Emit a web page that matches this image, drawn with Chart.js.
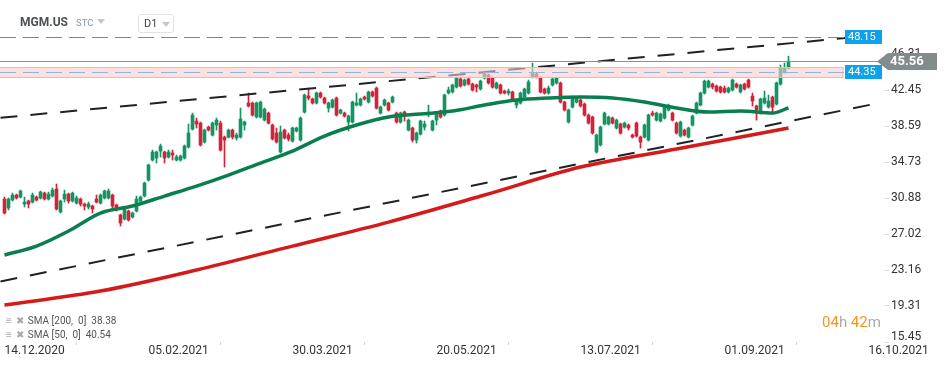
<!DOCTYPE html>
<html>
<head>
<meta charset="utf-8">
<script src="https://cdn.jsdelivr.net/npm/chart.js@4.4.1/dist/chart.umd.min.js"></script>
<style>
  body { margin: 0; background: #fff; font-family: Roboto, "Noto Sans", sans-serif; }
  #wrap { position: relative; width: 950px; height: 367px; overflow: hidden; }
  canvas { position: absolute; left: 0; top: 0; }
  .abs { position: absolute; white-space: nowrap; }
  .sym { left: 20px; top: 15px; font-size: 12px; font-weight: bold; color: #4a5056; }
  .stc { left: 76px; top: 17px; font-size: 9.5px; color: #8c98a4; }
  .tri { width: 0; height: 0; border-left: 4px solid transparent; border-right: 4px solid transparent; border-top: 5px solid #c6c6c6; }
  .tf { left: 138px; top: 14px; width: 34px; height: 17px; border: 1px solid #e2e2e2; border-radius: 3px; }
  .tf span { position: absolute; left: 5px; top: 2px; font-size: 11px; color: #444; }
  .leg { left: 6px; font-size: 10px; color: #555; }
  .leg i { font-style: normal; color: #aaa; font-size: 10px; margin-right: 4px; }
  .timer { left: 822px; top: 313px; font-size: 15px; color: #aaa; }
  .timer b { font-weight: normal; color: #f7931e; }
</style>
</head>
<body>
<div id="wrap">
  <canvas id="chart" width="950" height="367"></canvas>
  <div class="abs sym">MGM.US</div>
  <div class="abs stc">STC</div>
  <div class="abs tri" style="left:97px;top:19px"></div>
  <div class="abs tf"><span>D1</span><div class="abs tri" style="left:23px;top:7px"></div></div>
  <div class="abs leg" style="top:315px"><i>&#8801;</i><i>&#10006;</i>SMA [200,&nbsp; 0]&nbsp; 38.38</div>
  <div class="abs leg" style="top:329px"><i>&#8801;</i><i>&#10006;</i>SMA [50,&nbsp; 0]&nbsp; 40.54</div>
  <div class="abs timer"><b>04</b>h <b>42</b>m</div>
</div>
<script>
// x axis labels (bar index of each date)
const dates = ['14.12.2020', '05.02.2021', '30.03.2021', '20.05.2021', '13.07.2021', '01.09.2021', '16.10.2021'];
const dateIdx = [0, 36, 72, 108, 144, 180, 216];
const yTicks = ['15.45', '19.31', '23.16', '27.02', '30.88', '34.73', '38.59', '42.45', '46.31'];

// daily candles MGM.US
const open = [
  30.77, 29.81, 30.66, 31.20, 30.98, 30.23, 30.56, 30.45, 30.98, 30.88,
  31.41, 30.77, 31.09, 31.84, 29.38, 30.77, 31.30, 30.56, 30.34, 30.77,
  30.23, 29.91, 30.02, 30.77, 30.34, 30.88, 30.88, 31.20, 30.13, 29.06,
  28.63, 29.48, 28.84, 29.48, 30.56, 31.09, 32.80, 34.95, 35.16, 35.91,
  35.81, 35.27, 35.70, 34.95, 34.95, 35.16, 36.34, 38.27, 39.13, 38.91,
  36.88, 38.48, 37.63, 38.70, 38.91, 37.41, 37.41, 38.16, 37.31, 37.41,
  38.70, 41.06, 41.06, 39.56, 39.56, 39.23, 39.98, 38.70, 37.84, 35.81,
  38.16, 37.63, 36.98, 38.06, 37.09, 40.09, 41.81, 41.49, 41.06, 42.13,
  41.59, 40.52, 40.63, 41.59, 39.98, 39.98, 39.02, 39.02, 40.84, 40.84,
  41.70, 41.16, 42.24, 42.66, 39.98, 40.84, 41.06, 41.16, 39.98, 39.02,
  40.09, 38.16, 38.38, 37.09, 37.73, 38.48, 39.98, 38.16, 39.23, 40.20,
  39.77, 42.13, 42.24, 42.77, 43.63, 42.99, 43.63, 43.09, 42.99, 42.56,
  43.74, 44.06, 43.74, 42.66, 42.99, 42.34, 42.13, 42.24, 40.84, 41.06,
  41.70, 42.13, 43.84, 44.16, 43.74, 42.56, 42.13, 42.99, 43.20, 43.20,
  41.16, 39.02, 40.63, 41.16, 41.38, 40.95, 39.77, 39.56, 35.81, 36.56,
  38.81, 38.81, 39.45, 38.38, 38.81, 38.48, 38.70, 37.63, 38.91, 37.41,
  37.41, 37.09, 39.98, 39.23, 39.13, 39.45, 40.31, 39.98, 38.91, 37.52,
  38.16, 37.41, 38.70, 39.98, 40.84, 42.13, 42.77, 43.09, 42.88, 42.77,
  42.66, 42.24, 42.45, 43.09, 42.24, 43.09, 43.52, 41.81, 40.74, 39.98,
  41.06, 40.63, 41.70, 40.95, 43.09, 44.38, 44.81
];
const high = [
  30.98, 30.88, 31.41, 31.30, 31.73, 30.98, 30.66, 31.41, 31.09, 31.63,
  31.52, 31.52, 31.95, 32.38, 30.66, 31.73, 31.41, 31.52, 31.09, 30.88,
  30.34, 30.45, 30.13, 31.20, 31.30, 31.73, 31.84, 31.30, 30.23, 29.16,
  29.81, 29.59, 29.38, 31.09, 31.09, 32.59, 34.52, 36.02, 35.91, 36.66,
  35.91, 36.02, 36.02, 35.48, 35.48, 36.56, 38.81, 39.98, 39.45, 39.02,
  38.27, 38.59, 39.02, 39.45, 39.13, 37.52, 38.27, 38.27, 37.84, 40.52,
  39.13, 42.13, 41.16, 41.16, 41.27, 40.52, 40.09, 38.81, 38.38, 38.59,
  38.27, 37.84, 38.48, 38.48, 39.56, 42.02, 42.66, 41.59, 42.24, 42.24,
  41.70, 41.16, 41.49, 41.70, 40.41, 40.09, 39.77, 41.27, 42.13, 41.59,
  41.81, 42.34, 42.34, 42.77, 40.74, 41.49, 41.16, 41.81, 40.09, 40.09,
  40.20, 39.34, 38.48, 37.95, 39.23, 39.13, 40.84, 39.23, 40.09, 40.31,
  42.02, 42.77, 43.09, 43.84, 43.74, 43.63, 43.74, 43.20, 43.09, 43.52,
  44.38, 44.16, 43.84, 43.31, 43.09, 42.45, 42.56, 42.34, 41.49, 42.24,
  42.66, 43.52, 45.34, 44.27, 43.84, 42.66, 42.88, 43.74, 43.84, 43.31,
  41.27, 40.41, 41.81, 41.70, 41.49, 41.06, 39.88, 39.66, 37.73, 38.59,
  40.09, 39.66, 39.56, 39.34, 38.91, 39.02, 38.81, 37.73, 39.02, 37.52,
  38.81, 39.88, 40.20, 40.09, 39.98, 40.74, 40.95, 40.09, 39.02, 39.13,
  38.27, 38.48, 39.77, 41.16, 42.24, 43.52, 43.52, 43.20, 42.99, 42.88,
  42.88, 42.77, 43.63, 43.20, 43.09, 43.20, 43.63, 42.13, 40.84, 41.59,
  42.34, 41.91, 41.81, 43.31, 45.13, 45.34, 46.09
];
const low = [
  29.16, 29.59, 30.56, 30.77, 30.88, 29.91, 29.81, 30.34, 30.56, 30.77,
  30.66, 30.66, 30.98, 29.59, 29.27, 30.45, 30.34, 30.45, 30.23, 30.02,
  29.59, 29.70, 29.27, 30.34, 30.23, 30.77, 30.77, 29.81, 29.48, 27.88,
  28.52, 28.41, 28.73, 29.38, 30.45, 30.98, 32.70, 34.84, 34.63, 35.27,
  34.63, 35.16, 34.95, 34.84, 34.84, 35.06, 36.23, 38.16, 38.38, 36.45,
  36.77, 38.06, 37.52, 38.16, 35.91, 34.20, 37.31, 37.20, 37.09, 37.31,
  38.16, 40.63, 39.66, 39.45, 39.45, 39.13, 38.81, 37.09, 36.77, 35.70,
  37.20, 36.98, 36.88, 37.95, 36.98, 39.98, 41.38, 40.95, 40.95, 41.59,
  40.95, 40.09, 40.52, 39.66, 39.88, 39.56, 38.06, 38.91, 40.74, 40.74,
  41.38, 41.06, 41.70, 40.41, 39.88, 40.74, 40.20, 41.06, 38.91, 38.91,
  39.13, 38.06, 36.88, 36.77, 37.63, 38.16, 39.56, 38.06, 38.70, 39.45,
  39.66, 42.02, 42.13, 42.66, 42.77, 42.88, 42.99, 42.34, 42.24, 42.45,
  43.63, 43.09, 42.66, 42.56, 42.02, 42.02, 41.91, 41.38, 40.52, 40.95,
  41.59, 42.02, 43.74, 43.74, 42.13, 42.02, 42.02, 42.88, 43.09, 41.06,
  40.20, 38.91, 40.52, 41.06, 40.63, 39.66, 38.81, 37.73, 35.70, 36.45,
  38.70, 38.70, 38.81, 38.27, 37.73, 38.38, 38.16, 37.31, 37.41, 36.23,
  37.31, 36.98, 39.66, 39.13, 39.02, 39.34, 40.20, 39.13, 37.73, 37.41,
  37.52, 37.31, 38.59, 39.88, 40.74, 42.02, 42.66, 42.56, 42.24, 42.13,
  42.13, 42.13, 42.34, 42.66, 42.13, 42.45, 42.66, 40.74, 39.23, 39.88,
  40.95, 40.52, 39.88, 40.84, 42.99, 44.27, 44.70
];
const close = [
  29.27, 30.77, 31.20, 30.88, 31.63, 30.45, 30.23, 31.20, 30.66, 31.52,
  30.77, 31.30, 31.73, 29.70, 30.56, 31.30, 30.56, 31.41, 30.88, 30.23,
  30.02, 30.23, 29.70, 30.45, 31.20, 31.63, 31.63, 30.02, 29.70, 28.20,
  29.70, 28.52, 29.27, 30.77, 30.98, 32.48, 34.41, 35.81, 35.81, 36.45,
  35.16, 35.81, 35.48, 35.27, 35.38, 36.45, 37.84, 39.77, 38.81, 36.56,
  38.16, 38.16, 38.91, 39.23, 36.02, 37.09, 38.16, 37.41, 37.63, 39.34,
  39.02, 40.74, 39.77, 41.06, 41.16, 40.41, 38.91, 37.20, 36.88, 37.95,
  37.31, 37.20, 38.38, 38.38, 39.45, 41.91, 41.59, 41.06, 42.13, 41.70,
  41.06, 41.06, 41.38, 39.77, 40.31, 39.66, 39.66, 41.16, 41.06, 41.49,
  41.49, 42.24, 41.81, 40.52, 40.63, 41.38, 40.31, 41.70, 39.02, 39.98,
  39.77, 39.23, 37.09, 37.84, 39.13, 38.81, 40.09, 39.13, 39.98, 39.56,
  41.91, 42.45, 42.99, 43.74, 42.88, 43.52, 43.09, 42.45, 42.77, 43.41,
  44.27, 43.20, 42.77, 43.20, 42.13, 42.13, 42.34, 41.49, 41.38, 42.13,
  42.56, 43.31, 44.27, 43.84, 42.24, 42.13, 42.66, 43.63, 43.74, 41.16,
  40.31, 40.31, 41.70, 41.59, 40.74, 39.77, 38.91, 37.84, 37.63, 38.48,
  39.98, 39.56, 38.91, 39.23, 37.84, 38.91, 38.38, 37.41, 37.52, 36.88,
  38.70, 39.77, 39.77, 39.98, 39.88, 40.63, 40.63, 39.23, 37.84, 39.02,
  37.63, 38.38, 39.66, 41.06, 42.13, 43.41, 43.41, 42.77, 42.34, 42.24,
  42.24, 42.66, 43.52, 42.77, 42.99, 42.56, 42.77, 41.27, 40.31, 41.49,
  41.59, 41.27, 40.63, 43.20, 44.81, 44.81, 45.56
];

// moving averages (bar index / value)
const smaIdx = [0, 8, 16, 24, 32, 40, 48, 56, 64, 72, 80, 88, 96, 104, 112, 120, 128, 136, 144, 152, 160, 168, 176, 184, 192, 196];
const sma50 = [24.77, 25.73, 27.34, 29.27, 30.02, 31.09, 32.16, 33.34, 34.63, 35.91, 37.52, 38.70, 39.56, 39.88, 40.20, 40.84, 41.38, 41.59, 41.70, 41.59, 41.16, 40.52, 40.09, 40.20, 39.98, 40.54];
const sma200Idx = [0, 24, 48, 72, 96, 120, 144, 168, 196];
const sma200 = [19.41, 20.91, 23.16, 25.73, 28.30, 31.20, 34.20, 36.13, 38.38];

// trend channel (start / end bar)
const trendIdx = [-1, 217];
const upperTrend = [39.48, 48.30];
const lowerTrend = [21.94, 40.92];

// horizontal levels
const resistance = 48.15;
const lastPrice = 45.56;
const support = 44.35;
const supportZone = [43.84, 44.92];

const UP = '#139463', DOWN = '#d3223a';
const idx = close.map((_, i) => i);
const col = idx.map(i => close[i] >= open[i] ? UP : DOWN);

const levels = {
  id: 'levels',
  afterDatasetsDraw(chart) {
    const { ctx } = chart;
    const y = chart.scales.y;
    const zt = y.getPixelForValue(supportZone[1]);
    const zb = y.getPixelForValue(supportZone[0]);
    ctx.save();
    ctx.fillStyle = 'rgba(252,203,203,0.6)';
    ctx.fillRect(0, zt, 843, zb - zt);
    ctx.strokeStyle = '#f3b3b3';
    ctx.lineWidth = 1;
    ctx.strokeRect(-1, Math.round(zt) + 0.5, 844, Math.round(zb - zt));

    let p = Math.round(y.getPixelForValue(support)) + 0.5;
    ctx.strokeStyle = '#93b4dc';
    ctx.setLineDash([16, 7]);
    ctx.beginPath(); ctx.moveTo(0, p); ctx.lineTo(845, p); ctx.stroke();

    p = Math.round(y.getPixelForValue(resistance)) + 0.5;
    ctx.strokeStyle = '#27a3e3';
    ctx.beginPath(); ctx.moveTo(0, p); ctx.lineTo(845, p); ctx.stroke();

    ctx.setLineDash([]);
    p = Math.round(y.getPixelForValue(lastPrice)) + 0.5;
    ctx.strokeStyle = '#8a9292';
    ctx.beginPath(); ctx.moveTo(0, p); ctx.lineTo(878, p); ctx.stroke();
    ctx.restore();
  },
  afterDraw(chart) {
    const { ctx } = chart;
    const y = chart.scales.y;
    ctx.save();
    ctx.textBaseline = 'middle';
    ctx.textAlign = 'left';
    // bottom tick label sits a little higher, above the date
    ctx.fillStyle = '#333';
    ctx.font = '12px Roboto';
    ctx.fillText('15.45', 891, y.getPixelForValue(15.45) - 5);

    [resistance, support].forEach(v => {
      const c = Math.round(y.getPixelForValue(v));
      ctx.fillStyle = '#0ea2ea';
      ctx.fillRect(845, c - 7, 37, 14);
      ctx.fillStyle = '#fff';
      ctx.font = '11px Roboto';
      ctx.fillText(v.toFixed(2), 848, c + 0.5);
    });

    const c = Math.round(y.getPixelForValue(lastPrice)) + 0.5;
    ctx.fillStyle = '#838c8c';
    ctx.beginPath();
    ctx.moveTo(877, c);
    ctx.lineTo(888, c - 8.5);
    ctx.lineTo(937, c - 8.5);
    ctx.lineTo(937, c + 8.5);
    ctx.lineTo(888, c + 8.5);
    ctx.closePath();
    ctx.fill();
    ctx.fillStyle = '#fff';
    ctx.font = 'bold 13px Roboto';
    ctx.fillText(lastPrice.toFixed(2), 890, c + 0.5);
    ctx.restore();
  }
};

new Chart(document.getElementById('chart'), {
  type: 'bar',
  data: {
    datasets: [
      {
        type: 'line', order: 1,
        data: trendIdx.map((x, k) => ({ x: x, y: upperTrend[k] })),
        borderColor: '#1e2226', borderWidth: 2, borderDash: [17, 13], pointRadius: 0
      },
      {
        type: 'line', order: 1,
        data: trendIdx.map((x, k) => ({ x: x, y: lowerTrend[k] })),
        borderColor: '#1e2226', borderWidth: 2, borderDash: [17, 13], pointRadius: 0
      },
      {
        type: 'line', order: 2,
        data: smaIdx.map((x, k) => ({ x: x, y: sma50[k] })),
        borderColor: '#0b7e50', borderWidth: 3.5, pointRadius: 0, cubicInterpolationMode: 'monotone'
      },
      {
        type: 'line', order: 3,
        data: sma200Idx.map((x, k) => ({ x: x, y: sma200[k] })),
        borderColor: '#d41a1a', borderWidth: 3.5, pointRadius: 0, cubicInterpolationMode: 'monotone'
      },
      {
        order: 4, grouped: false,
        data: idx.map(i => ({ x: i, y: [open[i], close[i]] })),
        backgroundColor: col, barThickness: 3, minBarLength: 1, borderSkipped: false
      },
      {
        order: 5, grouped: false,
        data: idx.map(i => ({ x: i, y: [low[i], high[i]] })),
        backgroundColor: col, barThickness: 1, borderSkipped: false
      }
    ]
  },
  options: {
    responsive: false,
    animation: false,
    devicePixelRatio: 1,
    events: [],
    layout: { padding: { top: 28, left: 0, right: 0, bottom: 0 } },
    plugins: { legend: { display: false }, tooltip: { enabled: false } },
    scales: {
      x: {
        type: 'linear', min: -1.125, max: 220.125, offset: false,
        grid: { drawOnChartArea: false, tickLength: 3, color: '#d6d6d6' },
        border: { display: false },
        afterBuildTicks: s => { s.ticks = dateIdx.map(v => ({ value: v })); },
        afterFit: s => { s.height = 25; },
        ticks: {
          autoSkip: false, maxRotation: 0, align: 'start', padding: -1,
          color: '#333', font: { family: 'Roboto', size: 12 },
          callback: v => dates[dateIdx.indexOf(v)]
        }
      },
      y: {
        position: 'right', min: 15.45, max: 49.1,
        grid: { drawOnChartArea: false, tickLength: 4, color: '#d6d6d6' },
        border: { display: false },
        afterBuildTicks: s => { s.ticks = yTicks.map(v => ({ value: parseFloat(v) })); },
        afterFit: s => { s.width = 65; },
        ticks: {
          padding: 2, color: '#333', font: { family: 'Roboto', size: 12 },
          callback: (v, k) => k === 0 ? '' : yTicks[k]
        }
      }
    }
  },
  plugins: [levels]
});
</script>
</body>
</html>
